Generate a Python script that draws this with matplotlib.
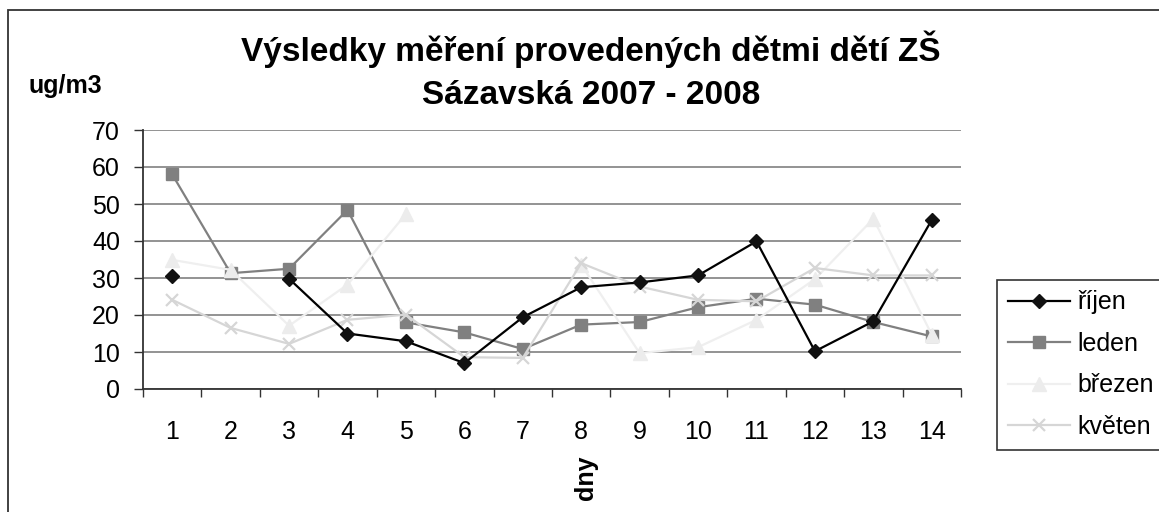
import numpy as np
import matplotlib
matplotlib.use("Agg")
import matplotlib.pyplot as plt
from matplotlib.patches import Rectangle
from matplotlib.ticker import MultipleLocator, FixedLocator

plt.rcParams['font.family'] = ['Liberation Sans', 'DejaVu Sans']

# ---- data ----
days = list(range(1, 15))
rijen = [30.6, np.nan, 29.8, 15.0, 12.9, 7.0, 19.4, 27.5, 28.8, 30.7, 39.9, 10.2, 18.3, 45.7]
leden = [58.0, 31.3, 32.5, 48.4, 18.0, 15.3, 10.8, 17.4, 18.1, 22.1, 24.4, 22.8, 18.1, 14.2]
brezen = [34.9, 32.2, 17.1, 28.2, 47.3, np.nan, np.nan, 33.6, 9.7, 11.3, 18.7, 29.7, 46.0, 14.7]
kveten = [24.1, 16.5, 12.2, 18.7, 20.1, 8.6, 8.4, 34.0, 27.7, 24.1, 23.7, 32.7, 30.7, 30.7]
series_names = ["říjen", "leden", "březen", "květen"]
title_lines = ["Výsledky měření provedených dětmi dětí ZŠ", "Sázavská 2007 - 2008"]
y_unit = "ug/m3"
x_label = "dny"

W, H = 1159, 512
fig = plt.figure(figsize=(W / 100, H / 100), dpi=100)

# outer chart border
fig.patches.append(Rectangle((8 / W, -0.5), 2.0, (1 - 10 / H) + 0.5,
                             transform=fig.transFigure, fill=False,
                             ec='#333333', lw=1.3))

ax = fig.add_axes([143 / W, 1 - 389 / H, (961 - 143) / W, (389 - 130) / H])

styles = [
    dict(color='#000000', marker='D', ms=7, mfc='#111111', mec='#111111'),
    dict(color='#808080', marker='s', ms=8.5, mfc='#808080', mec='#808080'),
    dict(color='#efefef', marker='^', ms=10, mfc='#ececec', mec='#ececec'),
    dict(color='#d6d6d6', marker='x', ms=9, mfc='#d6d6d6', mec='#d6d6d6', mew=1.6),
]
data = [rijen, leden, brezen, kveten]
handles = []
for i, (vals, name, st) in enumerate(zip(data, series_names, styles)):
    h, = ax.plot(days, vals, lw=1.6, label=name, zorder=3.5 if i == 0 else 3, **st)
    handles.append(h)

ax.set_xlim(0.5, 14.5)
ax.set_ylim(0, 70)
ax.yaxis.set_major_locator(MultipleLocator(10))
ax.xaxis.set_major_locator(FixedLocator(days))
ax.xaxis.set_minor_locator(FixedLocator(np.arange(0.5, 15, 1)))
ax.grid(axis='y', color='#808080', lw=1.2)
ax.set_axisbelow(True)
for s in ['top', 'right']:
    ax.spines[s].set_visible(False)
for s in ['left', 'bottom']:
    ax.spines[s].set_color('#333333')
    ax.spines[s].set_linewidth(1.3)

ax.tick_params(axis='y', direction='out', length=6.5, width=1, color='#333333',
               labelsize=18, pad=10)
ax.tick_params(axis='x', which='major', length=0, labelsize=18, pad=22)
ax.tick_params(axis='x', which='minor', direction='out', length=6, width=1, color='#333333')

# titles and axis labels
fig.text(591 / W, 1 - 61 / H, title_lines[0], ha='center', va='baseline',
         fontsize=24, fontweight='bold')
fig.text(591 / W, 1 - 104 / H, title_lines[1], ha='center', va='baseline',
         fontsize=24, fontweight='bold')
fig.text(28 / W, 1 - 93 / H, y_unit, ha='left', va='baseline',
         fontsize=18, fontweight='bold')
fig.text(586 / W, 1 - 478 / H, x_label, ha='center', va='center', rotation=90,
         fontsize=18, fontweight='bold')

leg = fig.legend(handles=handles, loc='upper left',
                 bbox_to_anchor=(997 / W, 1 - 280 / H), bbox_transform=fig.transFigure,
                 frameon=True, fancybox=False, framealpha=1, edgecolor='#333333',
                 fontsize=18, handlelength=2.5, handletextpad=0.3,
                 labelspacing=0.7, borderpad=0.42, borderaxespad=0)
leg.get_frame().set_linewidth(1.2)

fig.savefig("out.png", dpi=100)
